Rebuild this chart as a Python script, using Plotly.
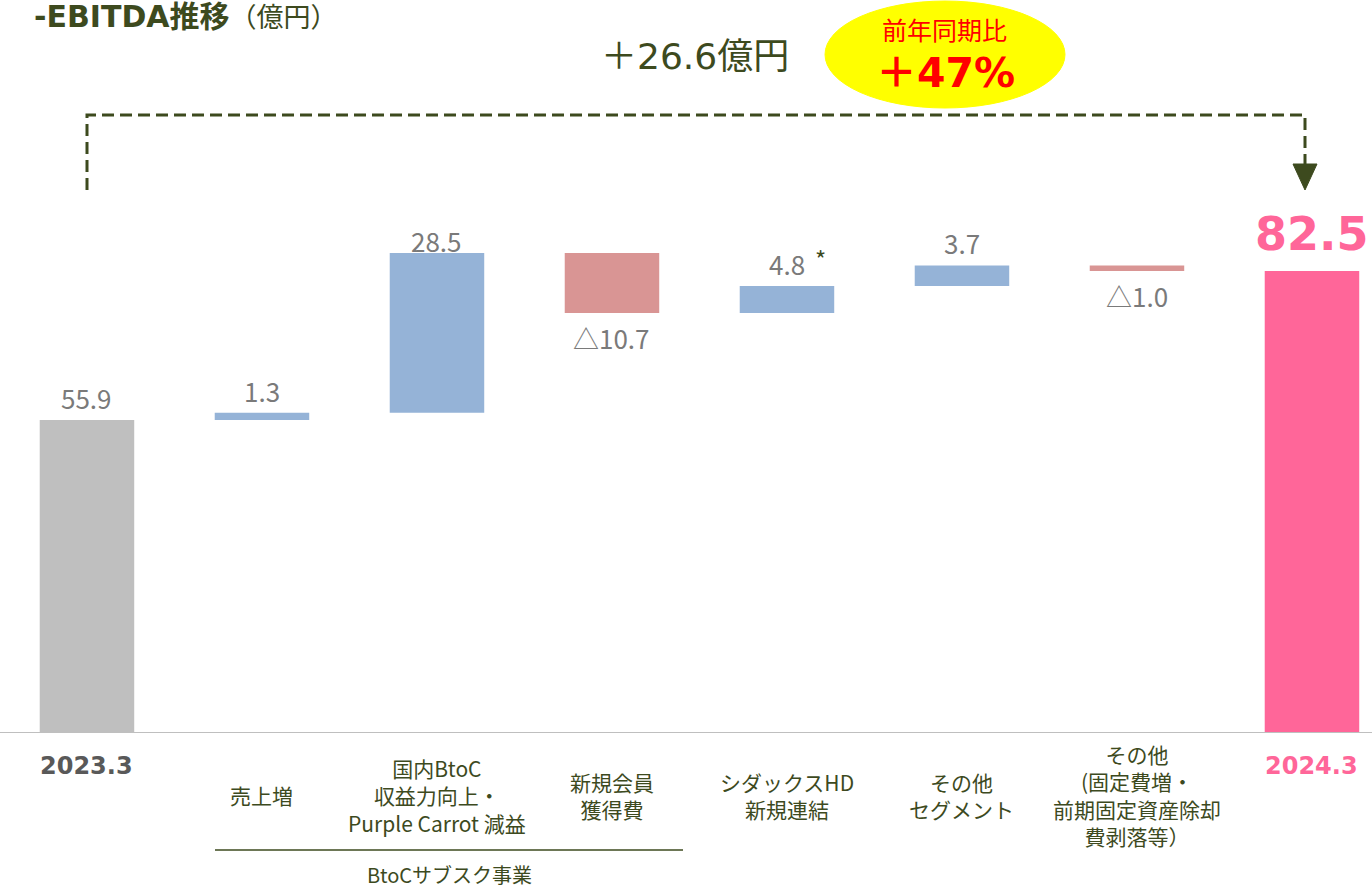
import plotly.graph_objects as go

# data
categories = ["2023.3", "売上増", "国内BtoC<br>収益力向上・<br>Purple Carrot 減益", "新規会員<br>獲得費",
              "シダックスHD<br>新規連結", "その他<br>セグメント",
              "その他<br>(固定費増・<br>前期固定資産除却<br>費剥落等）", "2024.3"]
start_value = 55.9
changes = [1.3, 28.5, -10.7, 4.8, 3.7, -1.0]
end_value = 82.5
value_labels = ["55.9", "1.3", "28.5", "△10.7", "4.8", "3.7", "△1.0", "82.5"]

W, H = 1372, 889
PLOT_H = 733
OLIVE = "#3d4a1e"
GRAY_TXT = "#7a7a7a"
FONT = "Noto Sans CJK JP"
WIDE = "DejaVu Sans, Noto Sans CJK JP"


def px(x):
    return x / W


def py(y):
    return (PLOT_H - y) / PLOT_H


# bars: base + height
bases, heights, colors = [0], [start_value], ["#bfbfbf"]
running = start_value
for c in changes:
    if c >= 0:
        bases.append(running)
        colors.append("#95b3d7")
    else:
        bases.append(running + c)
        colors.append("#d99594")
    heights.append(abs(c))
    running += c
bases.append(0)
heights.append(end_value)
colors.append("#ff6699")

xs = list(range(len(categories)))

fig = go.Figure()
fig.add_trace(go.Bar(x=xs, y=heights, base=bases, marker=dict(color=colors, line_width=0),
                     width=0.54, hoverinfo="skip"))

ann = []
# value labels
for i, txt in enumerate(value_labels):
    top = bases[i] + heights[i]
    if i == len(value_labels) - 1:
        ann.append(dict(x=i, y=top, text=txt, xanchor="center", yanchor="bottom", yshift=8,
                        showarrow=False,
                        font=dict(size=46, color="#ff6699", family=WIDE, weight="bold")))
    elif i > 0 and changes[i - 1] < 0:
        ann.append(dict(x=i, y=bases[i], text=txt, xanchor="center", yanchor="top", yshift=-4,
                        showarrow=False, font=dict(size=26, color=GRAY_TXT, family=FONT)))
    else:
        shift = -8 if txt == "28.5" else 2
        ann.append(dict(x=i, y=top, text=txt, xanchor="center", yanchor="bottom", yshift=shift,
                        showarrow=False, font=dict(size=26, color=GRAY_TXT, family=FONT)))

ann.append(dict(x=px(820), y=py(258), xref="paper", yref="paper", text="*", showarrow=False,
                xanchor="center", yanchor="middle", font=dict(size=24, color=OLIVE, family=FONT)))

# category labels
for i, cat in enumerate(categories):
    if i == 0 or i == len(categories) - 1:
        col = "#595959" if i == 0 else "#ff6699"
        ann.append(dict(x=i, y=py(766), xref="x", yref="paper", text=cat, showarrow=False,
                        xanchor="center", yanchor="middle",
                        font=dict(size=24, color=col, family=WIDE, weight="bold")))
    else:
        ann.append(dict(x=i, y=py(795), xref="x", yref="paper", text=cat, showarrow=False,
                        xanchor="center", yanchor="middle",
                        font=dict(size=21, color=OLIVE, family=FONT)))

ann.append(dict(x=px(449), y=py(874), xref="paper", yref="paper", text="BtoCサブスク事業",
                xanchor="center", yanchor="middle",
                showarrow=False, font=dict(size=20, color=OLIVE, family=FONT)))

# title
ann.append(dict(x=px(32), y=py(16), xref="paper", yref="paper", xanchor="left", yanchor="middle",
                text="<b>-EBITDA推移</b><span style='font-size:27px'>（億円）</span>",
                showarrow=False, font=dict(size=30, color=OLIVE, family=WIDE)))

# growth callouts
ann.append(dict(x=px(695), y=py(56), xref="paper", yref="paper", text="＋26.6億円",
                xanchor="center", yanchor="middle",
                showarrow=False, font=dict(size=36, color=OLIVE, family=WIDE)))
ann.append(dict(x=px(944), y=py(29), xref="paper", yref="paper", text="前年同期比",
                xanchor="center", yanchor="middle",
                showarrow=False, font=dict(size=25, color="#ff0000", family=FONT)))
ann.append(dict(x=px(946), y=py(73), xref="paper", yref="paper", text="<b>＋47%</b>",
                xanchor="center", yanchor="middle",
                showarrow=False, font=dict(size=41, color="#ff0000", family=WIDE)))

shapes = [
    # axis baseline
    dict(type="line", xref="paper", yref="y", x0=0, x1=1, y0=0, y1=0,
         line=dict(color="#bfbfbf", width=2)),
    # bracket
    dict(type="path", xref="paper", yref="paper",
         path=f"M {px(87)} {py(190)} L {px(87)} {py(115)} L {px(1305)} {py(115)} L {px(1305)} {py(166)}",
         line=dict(color=OLIVE, width=3, dash="12px,6px")),
    dict(type="path", xref="paper", yref="paper",
         path=f"M {px(1293)} {py(164)} L {px(1317)} {py(164)} L {px(1305)} {py(190)} Z",
         fillcolor=OLIVE, line=dict(color=OLIVE, width=1)),
    # yellow ellipse
    dict(type="circle", xref="paper", yref="paper", x0=px(825), x1=px(1065), y0=py(108), y1=py(1),
         fillcolor="#ffff00", line=dict(color="#ffff00", width=1), layer="below"),
    # group underline
    dict(type="line", xref="paper", yref="paper", x0=px(215), x1=px(683), y0=py(850), y1=py(850),
         line=dict(color=OLIVE, width=1.5)),
]

fig.update_layout(
    width=W, height=H,
    margin=dict(l=0, r=0, t=0, b=H - PLOT_H),
    plot_bgcolor="white", paper_bgcolor="white",
    showlegend=False,
    xaxis=dict(range=[-0.497, 7.343], showticklabels=False, showgrid=False, zeroline=False,
               fixedrange=True),
    yaxis=dict(range=[0, PLOT_H / 5.6], showticklabels=False, showgrid=False, zeroline=False,
               fixedrange=True),
    annotations=ann,
    shapes=shapes,
    font=dict(family=FONT),
)

fig.write_html("out.html", config={"displayModeBar": False},
               post_script="document.body.style.margin='0px';")
